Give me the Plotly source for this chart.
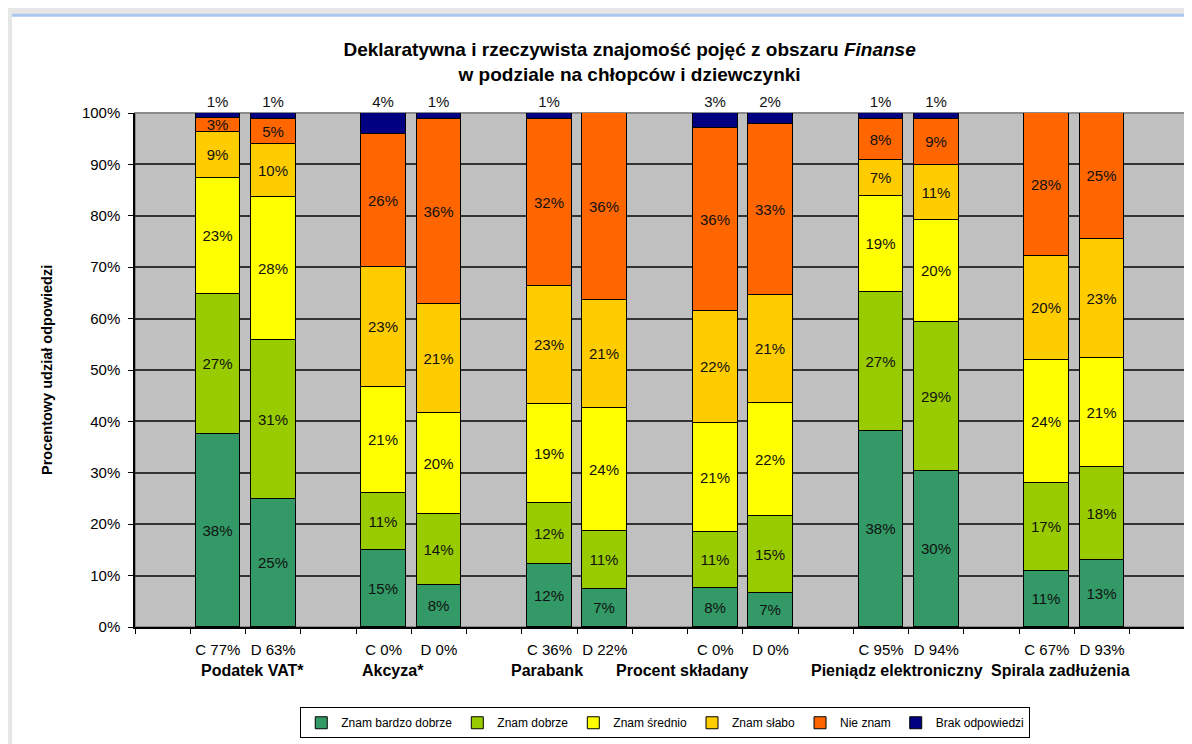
"""Declared vs. actual knowledge of finance terms, boys (C) vs girls (D)."""

import plotly.graph_objects as go

# Groups of terms; each has a C (boys) and a D (girls) bar
GROUPS = ["Podatek VAT*", "Akcyza*", "Parabank", "Procent składany",
          "Pieniądz elektroniczny", "Spirala zadłużenia"]
C_PCT = [77, 0, 36, 0, 95, 67]
D_PCT = [63, 0, 22, 0, 94, 93]

SERIES = ["Znam bardzo dobrze", "Znam dobrze", "Znam średnio",
          "Znam słabo", "Nie znam", "Brak odpowiedzi"]

# values in bar order: VAT C, VAT D, Akcyza C, Akcyza D, ... Spirala D
bardzo_dobrze = [0.376, 0.249, 0.150, 0.082, 0.122, 0.073, 0.076, 0.066, 0.381, 0.304, 0.109, 0.130]
dobrze = [0.272, 0.310, 0.110, 0.137, 0.119, 0.114, 0.108, 0.150, 0.271, 0.289, 0.171, 0.181]
srednio = [0.226, 0.278, 0.206, 0.198, 0.192, 0.240, 0.212, 0.219, 0.187, 0.198, 0.240, 0.213]
slabo = [0.089, 0.103, 0.234, 0.211, 0.231, 0.209, 0.219, 0.210, 0.070, 0.108, 0.202, 0.230]
nie_znam = [0.027, 0.048, 0.260, 0.360, 0.324, 0.364, 0.356, 0.334, 0.079, 0.089, 0.278, 0.246]
brak = [0.010, 0.012, 0.040, 0.012, 0.012, 0.000, 0.029, 0.021, 0.012, 0.012, 0.000, 0.000]

VALUES = [bardzo_dobrze, dobrze, srednio, slabo, nie_znam, brak]
COLORS = ["#339966", "#99CC00", "#FFFF00", "#FFCC00", "#FF6600", "#000080"]

# where the group names sit under the axis (they are offset as in the source)
GROUP_LABEL_X = [1.62, 4.17, 6.96, 9.40, 13.29, 16.24]

FONT = "Liberation Sans, Arial, sans-serif"

# one empty slot before every pair of bars
xpos = []
ticktext = []
for g in range(len(GROUPS)):
    xpos += [3 * g + 1, 3 * g + 2]
    ticktext += [f"C {C_PCT[g]}%", f"D {D_PCT[g]}%"]
n_slots = 3 * len(GROUPS) + 1

fig = go.Figure()
for i, (name, vals, col) in enumerate(zip(SERIES, VALUES, COLORS)):
    last = i == len(SERIES) - 1
    fig.add_trace(go.Bar(
        x=xpos, y=vals, name=name, width=0.81,
        marker=dict(color=col, line=dict(color="black", width=1)),
        text=[f"{v:.0%}" if v > 0 else "" for v in vals],
        textposition="outside" if last else "inside",
        insidetextanchor="middle", textangle=0, constraintext="none",
        cliponaxis=False,
        textfont=dict(family=FONT, size=15, color="#111111"),
        hoverinfo="name+y",
    ))

# frame like the exported chart object: grey shadow on the left and top, blue top edge
fig.add_shape(type="rect", xref="paper", yref="paper", x0=-0.125, x1=-0.117,
              y0=-0.3, y1=1.21, fillcolor="#E6E6E6", line=dict(width=0))
fig.add_shape(type="rect", xref="paper", yref="paper", x0=-0.125, x1=1.02,
              y0=1.192, y1=1.21, fillcolor="#E6E6E6", line=dict(width=0))
fig.add_shape(type="line", xref="paper", yref="paper", x0=-0.117, x1=1.02,
              y0=1.190, y1=1.190, line=dict(color="#A9C6F0", width=3))
# plot area border (grey)
fig.add_shape(type="rect", xref="paper", yref="paper", x0=0, x1=1, y0=0, y1=1,
              line=dict(color="#8C8C8C", width=2), layer="between")

for name, gx in zip(GROUPS, GROUP_LABEL_X):
    fig.add_annotation(x=gx, y=-0.0854, xref="x", yref="paper", text=f"<b>{name}</b>",
                       showarrow=False, xanchor="center", yanchor="middle",
                       font=dict(family=FONT, size=16, color="black"))

fig.add_annotation(x=-0.0838, y=0.5, xref="paper", yref="paper",
                   text="<b>Procentowy udział odpowiedzi</b>", textangle=-90,
                   showarrow=False, xanchor="center", yanchor="middle",
                   font=dict(family=FONT, size=14.5, color="black"))

fig.update_layout(
    width=1184, height=736,
    margin=dict(l=127, r=7, t=105, b=116),
    paper_bgcolor="white", plot_bgcolor="#C0C0C0",
    barmode="stack", bargap=0,
    title=dict(text="<b>Deklaratywna i rzeczywista znajomość pojęć z obszaru <i>Finanse</i>"
                    "<br>w podziale na chłopców i dziewczynki</b>",
               x=0.525, xanchor="center", y=0.9348, yanchor="middle",
               font=dict(family=FONT, size=19, color="black")),
    font=dict(family=FONT, size=15, color="black"),
    uniformtext=dict(minsize=15, mode="show"),
    showlegend=True,
    legend=dict(orientation="h", x=0.505, xanchor="center", y=-0.184, yanchor="middle",
                traceorder="normal", bgcolor="white", bordercolor="black", borderwidth=1,
                font=dict(family=FONT, size=12, color="black"),
                itemwidth=30, tracegroupgap=0),
    xaxis=dict(range=[-0.5, n_slots - 0.5], tickmode="array", tickvals=xpos,
               ticktext=ticktext, ticks="", showgrid=False, zeroline=False,
               showline=True, linecolor="black", linewidth=1.5,
               ticklabelstandoff=8, fixedrange=True,
               tickfont=dict(family=FONT, size=15, color="black"),
               minor=dict(tickmode="array", tickvals=[k - 0.5 for k in range(n_slots + 1)],
                          ticks="outside", ticklen=5, tickcolor="black", showgrid=False)),
    yaxis=dict(range=[0, 1], dtick=0.1, tickformat=".0%", ticks="outside", ticklen=5,
               tickcolor="black", showline=True, linecolor="black", linewidth=1.5,
               showgrid=True, gridcolor="#333333", gridwidth=1.5, zeroline=False,
               ticklabelstandoff=5,
               tickfont=dict(family=FONT, size=15, color="black"),
               fixedrange=True),
)

fig.write_html("out.html")
